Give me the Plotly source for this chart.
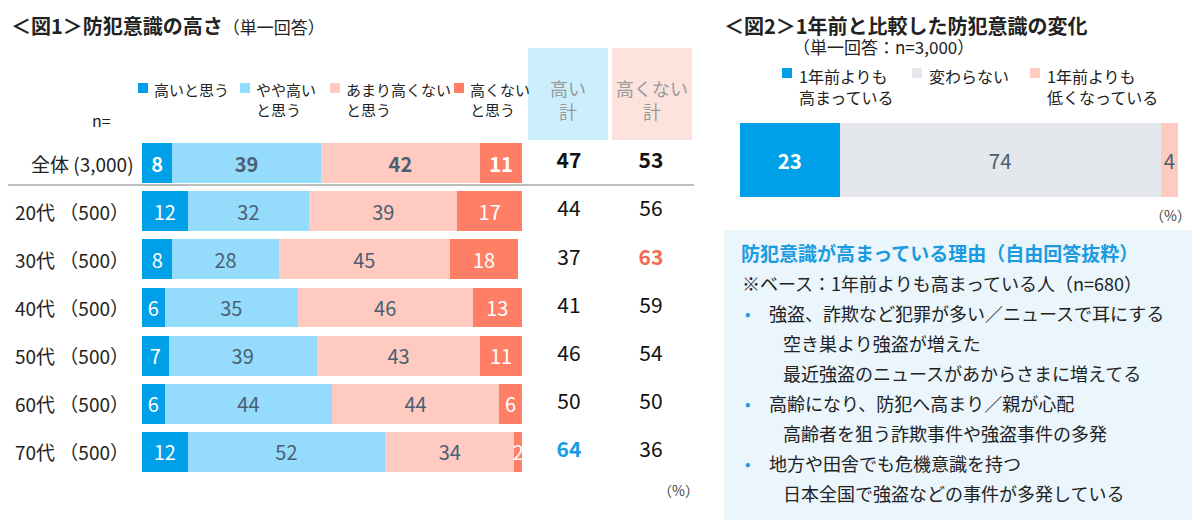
import plotly.graph_objects as go

# The page body has an 8px default margin, so the figure is drawn 8px in.
OFF = 8
W, H = 1200 - OFF, 528 - OFF
FONT = "Noto Sans CJK JP"


def px(x):
    return (x - OFF) / W


def py(y):
    return 1 - (y - OFF) / H


# ---------------- data: figure 1 ----------------
rows = ["全体 (3,000)", "20代 （500）", "30代 （500）", "40代 （500）",
        "50代 （500）", "60代 （500）", "70代 （500）"]
high = [8, 12, 8, 6, 7, 6, 12]            # 高いと思う
some_high = [39, 32, 28, 35, 39, 44, 52]  # やや高いと思う
not_very = [42, 39, 45, 46, 43, 44, 34]   # あまり高くないと思う
not_high = [11, 17, 18, 13, 11, 6, 2]     # 高くないと思う
total_high = [47, 44, 37, 41, 46, 50, 64]
total_low = [53, 56, 63, 59, 54, 50, 36]
series_names = ["高いと思う", "やや高い<br>と思う", "あまり高くない<br>と思う", "高くない<br>と思う"]
total_names = ["高い計", "高くない計"]
total_headers = ["高い<br>計", "高くない<br>計"]

# ---------------- data: figure 2 ----------------
change_names = ["1年前よりも<br>高まっている", "変わらない", "1年前よりも<br>低くなっている"]
change_vals = [23, 74, 4]

reason_title = "防犯意識が高まっている理由（自由回答抜粋）"
reason_base = "※ベース：1年前よりも高まっている人（n=680）"
reasons = [
    ("強盗、詐欺など犯罪が多い／ニュースで耳にする", ["空き巣より強盗が増えた", "最近強盗のニュースがあからさまに増えてる"]),
    ("高齢になり、防犯へ高まり／親が心配", ["高齢者を狙う詐欺事件や強盗事件の多発"]),
    ("地方や田舎でも危機意識を持つ", ["日本全国で強盗などの事件が多発している"]),
]

# ---------------- styles ----------------
C_DARK = "#00A0E9"
C_LIGHT = "#95DBFC"
C_PINK = "#FFCBC1"
C_SALMON = "#FF7F66"
C_GRAY = "#E4E8ED"
SLATE = "#4B5F73"
colors1 = [C_DARK, C_LIGHT, C_PINK, C_SALMON]
txtcol1 = ["white", SLATE, SLATE, "white"]

fig = go.Figure()

for name, vals, col, tc in zip(series_names, [high, some_high, not_very, not_high], colors1, txtcol1):
    fig.add_trace(go.Bar(
        x=vals, y=rows, orientation="h", width=0.83,
        marker=dict(color=col, line=dict(width=0)),
        text=[f"<b>{v}</b>" if i == 0 else str(v) for i, v in enumerate(vals)],
        textposition="inside", insidetextanchor="middle",
        textfont=dict(color=tc, size=20, family=FONT),
        name=name, showlegend=False, hoverinfo="skip",
        xaxis="x", yaxis="y", cliponaxis=True,
    ))

# totals columns
for tname, vals, hl in [(total_names[0], total_high, "#1A9BE0"), (total_names[1], total_low, "#F26B50")]:
    texts, cols = [], []
    mx = max(vals[1:])
    for i, v in enumerate(vals):
        if i == 0:
            texts.append(f"<b>{v}</b>"); cols.append("#111111")
        elif v == mx:
            texts.append(f"<b>{v}</b>"); cols.append(hl)
        else:
            texts.append(str(v)); cols.append("#111111")
    fig.add_trace(go.Scatter(
        x=[tname] * len(vals), y=rows, mode="text", text=texts,
        textfont=dict(size=21, color=cols, family=FONT),
        showlegend=False, hoverinfo="skip", xaxis="x3", yaxis="y",
    ))

# figure 2 bar
colors2 = [C_DARK, C_GRAY, C_PINK]
txtcol2 = ["white", SLATE, SLATE]
for i, (name, v, col, tc) in enumerate(zip(change_names, change_vals, colors2, txtcol2)):
    fig.add_trace(go.Bar(
        x=[v], y=["全体"], orientation="h", width=1,
        marker=dict(color=col, line=dict(width=0)),
        text=[f"<b>{v}</b>" if i == 0 else str(v)],
        textposition="inside", insidetextanchor="middle",
        textfont=dict(color=tc, size=21, family=FONT),
        name=name, showlegend=False, hoverinfo="skip",
        xaxis="x2", yaxis="y2",
    ))

hidden = dict(showgrid=False, zeroline=False, showticklabels=False, showline=False, ticks="", fixedrange=True)

fig.update_layout(
    width=W, height=H, margin=dict(l=0, r=0, t=0, b=0),
    paper_bgcolor="white", plot_bgcolor="rgba(0,0,0,0)",
    barmode="stack", font=dict(family=FONT, color="#222222"),
    uniformtext=dict(minsize=20, mode="show"),
    xaxis=dict(domain=[px(142), px(522)], range=[0, 100], **hidden),
    yaxis=dict(domain=[py(476), py(139)], type="category", categoryorder="array",
               categoryarray=rows, range=[len(rows) - 0.5, -0.5], **hidden),
    xaxis3=dict(domain=[px(528), px(692)], type="category", categoryorder="array",
                categoryarray=total_names, range=[-0.5, 1.5], anchor="y", **hidden),
    xaxis2=dict(domain=[px(740), px(1178)], range=[0, sum(change_vals)], anchor="y2", **hidden),
    yaxis2=dict(domain=[py(197), py(123)], range=[-0.5, 0.5], type="category", anchor="x2", **hidden),
)

shapes = []
ann = []


def text(x, y, s, size=16, color="#222222", xanchor="left", yanchor="middle", yref="paper", align="left"):
    ann.append(dict(x=x, y=y, xref="paper", yref=yref, text=s, showarrow=False,
                    xanchor=xanchor, yanchor=yanchor, align=align,
                    font=dict(size=size, color=color, family=FONT)))


# ---- figure 1 decorations ----
text(px(9), py(8.5), "<b>＜図1＞防犯意識の高さ</b><span style='font-size:17px'>（単一回答）</span>",
     size=20, yanchor="top")

# header boxes for totals
shapes.append(dict(type="rect", xref="paper", yref="paper", x0=px(528), x1=px(608), y0=py(140), y1=py(48),
                   fillcolor="#CCEFFD", line=dict(width=0), layer="below"))
shapes.append(dict(type="rect", xref="paper", yref="paper", x0=px(612), x1=px(692), y0=py(140), y1=py(48),
                   fillcolor="#FDE3DE", line=dict(width=0), layer="below"))
text(px(568), py(73), total_headers[0], size=18, color="#9A9A9A", xanchor="center", yanchor="top", align="center")
text(px(652), py(73), total_headers[1], size=18, color="#9A9A9A", xanchor="center", yanchor="top", align="center")

# legend fig1
leg_x = [138, 240, 330, 454]
for lx, name, col in zip(leg_x, series_names, colors1):
    shapes.append(dict(type="rect", xref="paper", yref="paper", x0=px(lx), x1=px(lx + 10), y0=py(93), y1=py(83),
                       fillcolor=col, line=dict(width=0)))
    text(px(lx + 14), py(77), name, size=15, yanchor="top")
text(px(90), py(120), "n=", size=16)

# row labels
for r in rows:
    text(px(136 if r.startswith("全体") else 131), r, r, size=19, xanchor="right", yref="y")

# separator under 全体
shapes.append(dict(type="line", xref="paper", yref="paper", x0=px(0), x1=px(694), y0=py(185), y1=py(185),
                   line=dict(color="#BDBDBD", width=2)))
text(px(678), py(490), "（%）", size=14, color="#444444", xanchor="center")

# ---- figure 2 decorations ----
text(px(722), py(8.5), "<b>＜図2＞1年前と比較した防犯意識の変化</b>", size=20, yanchor="top")
text(px(791), py(47), "（単一回答：n=3,000）", size=17)
leg2_x = [782, 912, 1030]
for lx, name, col in zip(leg2_x, change_names, colors2):
    shapes.append(dict(type="rect", xref="paper", yref="paper", x0=px(lx), x1=px(lx + 10), y0=py(78), y1=py(68),
                       fillcolor=col, line=dict(width=0)))
    text(px(lx + 15), py(62), name, size=16, yanchor="top")
text(px(1170), py(215), "（%）", size=14, color="#444444", xanchor="center")

# reasons box
shapes.append(dict(type="rect", xref="paper", yref="paper", x0=px(724), x1=px(1194), y0=py(520), y1=py(230),
                   fillcolor="#EAF5FC", line=dict(width=0), layer="below"))
text(px(739), py(252), f"<b>{reason_title}</b>", size=19, color="#1A9BE0")
text(px(740), py(283), reason_base, size=18)
yy = 313
for main, subs in reasons:
    text(px(743), py(yy), "•", size=16, color="#1A9BE0")
    text(px(767), py(yy), main, size=18)
    yy += 30
    for s in subs:
        text(px(781), py(yy), s, size=18)
        yy += 30

fig.update_layout(shapes=shapes, annotations=ann)
fig.write_html("out.html")
